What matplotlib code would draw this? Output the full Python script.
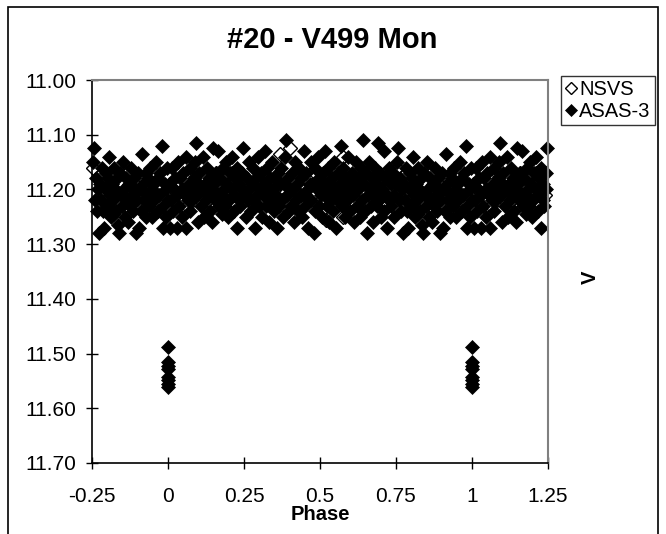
import matplotlib
matplotlib.use("Agg")
import matplotlib.pyplot as plt
from matplotlib.patches import Rectangle

plt.rcParams['font.family'] = ['Liberation Sans', 'DejaVu Sans']

# =========================
# DATA (phase, V magnitude)
# =========================
asas_phase = [
    0.003, 0.005, 0.010, 0.012, 0.017, 0.019, 0.023, 0.028, 0.029, 0.034,
    0.036, 0.039, 0.045, 0.047, 0.050, 0.055, 0.058, 0.060, 0.066, 0.068,
    0.071, 0.074, 0.079, 0.080, 0.086, 0.089, 0.091, 0.095, 0.098, 0.102,
    0.103, 0.108, 0.112, 0.114, 0.119, 0.121, 0.125, 0.129, 0.131, 0.136,
    0.138, 0.141, 0.146, 0.149, 0.151, 0.156, 0.158, 0.162, 0.165, 0.169,
    0.171, 0.176, 0.177, 0.182, 0.185, 0.188, 0.192, 0.194, 0.199, 0.201,
    0.205, 0.208, 0.211, 0.216, 0.218, 0.221, 0.226, 0.228, 0.232, 0.235,
    0.238, 0.243, 0.245, 0.248, 0.253, 0.255, 0.259, 0.262, 0.266, 0.268,
    0.272, 0.275, 0.279, 0.281, 0.286, 0.288, 0.293, 0.295, 0.298, 0.303,
    0.305, 0.309, 0.312, 0.315, 0.319, 0.322, 0.326, 0.328, 0.333, 0.336,
    0.338, 0.343, 0.345, 0.349, 0.352, 0.356, 0.359, 0.362, 0.365, 0.369,
    0.372, 0.376, 0.378, 0.382, 0.386, 0.389, 0.392, 0.396, 0.398, 0.402,
    0.405, 0.409, 0.412, 0.415, 0.419, 0.422, 0.425, 0.429, 0.432, 0.436,
    0.438, 0.442, 0.446, 0.448, 0.452, 0.455, 0.459, 0.462, 0.466, 0.469,
    0.472, 0.475, 0.479, 0.482, 0.485, 0.489, 0.492, 0.496, 0.498, 0.502,
    0.505, 0.509, 0.512, 0.516, 0.518, 0.522, 0.525, 0.529, 0.532, 0.535,
    0.538, 0.542, 0.545, 0.549, 0.552, 0.555, 0.559, 0.562, 0.566, 0.568,
    0.572, 0.575, 0.579, 0.582, 0.585, 0.589, 0.592, 0.595, 0.599, 0.602,
    0.605, 0.609, 0.612, 0.616, 0.618, 0.622, 0.625, 0.629, 0.632, 0.635,
    0.639, 0.642, 0.645, 0.649, 0.652, 0.655, 0.659, 0.662, 0.666, 0.668,
    0.672, 0.675, 0.679, 0.682, 0.686, 0.688, 0.692, 0.695, 0.699, 0.702,
    0.705, 0.709, 0.712, 0.715, 0.719, 0.722, 0.726, 0.728, 0.732, 0.735,
    0.739, 0.742, 0.745, 0.749, 0.752, 0.755, 0.759, 0.762, 0.765, 0.769,
    0.772, 0.776, 0.778, 0.782, 0.785, 0.789, 0.792, 0.796, 0.798, 0.802,
    0.805, 0.809, 0.812, 0.815, 0.819, 0.822, 0.826, 0.829, 0.832, 0.835,
    0.839, 0.842, 0.845, 0.849, 0.852, 0.856, 0.859, 0.862, 0.865, 0.869,
    0.872, 0.875, 0.879, 0.882, 0.886, 0.889, 0.892, 0.895, 0.899, 0.902,
    0.906, 0.909, 0.912, 0.915, 0.919, 0.922, 0.926, 0.929, 0.932, 0.935,
    0.939, 0.942, 0.946, 0.949, 0.952, 0.955, 0.959, 0.962, 0.966, 0.968,
    0.972, 0.975, 0.979, 0.982, 0.985, 0.989, 0.992, 0.995, 0.998, 0.999,
    # eclipse points
    0.000, 0.000, 0.000, 0.000, 0.000, 0.000, 0.000, 0.000,
]
asas_mag = [
    11.19, 11.27, 11.22, 11.16, 11.24, 11.20, 11.18, 11.27, 11.21, 11.15,
    11.23, 11.18, 11.20, 11.25, 11.17, 11.21, 11.14, 11.27, 11.22, 11.19,
    11.24, 11.16, 11.20, 11.22, 11.18, 11.15, 11.115, 11.21, 11.26, 11.19,
    11.17, 11.23, 11.20, 11.14, 11.25, 11.19, 11.22, 11.16, 11.21, 11.18,
    11.24, 11.20, 11.26, 11.125, 11.19, 11.22, 11.17, 11.21, 11.13, 11.23,
    11.18, 11.21, 11.245, 11.16, 11.20, 11.23, 11.15, 11.19, 11.25, 11.22,
    11.17, 11.20, 11.14, 11.24, 11.21, 11.18, 11.27, 11.16, 11.22, 11.19,
    11.23, 11.20, 11.17, 11.125, 11.21, 11.25, 11.18, 11.22, 11.15, 11.20,
    11.24, 11.19, 11.16, 11.22, 11.27, 11.18, 11.21, 11.14, 11.23, 11.20,
    11.17, 11.25, 11.21, 11.19, 11.13, 11.23, 11.16, 11.20, 11.26, 11.18,
    11.22, 11.15, 11.20, 11.24, 11.18, 11.21, 11.27, 11.17, 11.23, 11.19,
    11.16, 11.22, 11.25, 11.19, 11.14, 11.11, 11.21, 11.18, 11.24, 11.20,
    11.23, 11.17, 11.20, 11.26, 11.15, 11.22, 11.19, 11.24, 11.16, 11.21,
    11.18, 11.25, 11.13, 11.21, 11.23, 11.17, 11.20, 11.27, 11.19, 11.15,
    11.22, 11.19, 11.28, 11.16, 11.24, 11.20, 11.14, 11.23, 11.18, 11.21,
    11.25, 11.17, 11.21, 11.13, 11.19, 11.23, 11.16, 11.26, 11.20, 11.22,
    11.18, 11.24, 11.15, 11.20, 11.27, 11.22, 11.17, 11.21, 11.19, 11.12,
    11.23, 11.16, 11.20, 11.25, 11.18, 11.22, 11.14, 11.21, 11.24, 11.19,
    11.17, 11.21, 11.26, 11.19, 11.15, 11.23, 11.20, 11.18, 11.25, 11.16,
    11.22, 11.11, 11.19, 11.24, 11.17, 11.28, 11.21, 11.15, 11.20, 11.23,
    11.18, 11.26, 11.21, 11.16, 11.23, 11.19, 11.115, 11.22, 11.17, 11.25,
    11.20, 11.13, 11.24, 11.18, 11.27, 11.21, 11.16, 11.22, 11.19, 11.23,
    11.17, 11.21, 11.25, 11.19, 11.15, 11.125, 11.22, 11.18, 11.24, 11.20,
    11.28, 11.19, 11.22, 11.16, 11.24, 11.27, 11.20, 11.17, 11.23, 11.18,
    11.14, 11.21, 11.25, 11.19, 11.22, 11.16, 11.20, 11.24, 11.18, 11.265,
    11.28, 11.17, 11.21, 11.23, 11.15, 11.20, 11.25, 11.18, 11.22, 11.26,
    11.19, 11.23, 11.16, 11.21, 11.24, 11.18, 11.20, 11.28, 11.22, 11.17,
    11.27, 11.20, 11.24, 11.135, 11.19, 11.22, 11.17, 11.25, 11.21, 11.18,
    11.23, 11.16, 11.20, 11.25, 11.19, 11.22, 11.15, 11.21, 11.24, 11.18,
    11.21, 11.17, 11.12, 11.27, 11.23, 11.19, 11.25, 11.20, 11.16, 11.22,
    11.488, 11.515, 11.522, 11.528, 11.542, 11.548, 11.556, 11.562,
]

nsvs_phase = [
    0.018, 0.052, 0.100, 0.132, 0.174, 0.209, 0.241, 0.283, 0.317, 0.352,
    0.368, 0.401, 0.433, 0.468, 0.503, 0.520, 0.548, 0.575, 0.577, 0.611,
    0.647, 0.681, 0.716, 0.753, 0.786, 0.820, 0.851, 0.884, 0.917, 0.948,
    0.981, 0.064, 0.157, 0.262, 0.339, 0.455, 0.596, 0.703, 0.864, 0.936,
]
nsvs_mag = [
    11.20, 11.18, 11.215, 11.22, 11.19, 11.17, 11.21, 11.23, 11.18, 11.20,
    11.135, 11.125, 11.21, 11.19, 11.22, 11.255, 11.20, 11.14, 11.25, 11.18,
    11.21, 11.19, 11.23, 11.16, 11.20, 11.245, 11.19, 11.22, 11.18, 11.21,
    11.20, 11.23, 11.17, 11.19, 11.22, 11.18, 11.20, 11.21, 11.17, 11.24,
]

x_ticks = [-0.25, 0, 0.25, 0.5, 0.75, 1, 1.25]
x_labels = ["-0.25", "0", "0.25", "0.5", "0.75", "1", "1.25"]
y_ticks = [11.00, 11.10, 11.20, 11.30, 11.40, 11.50, 11.60, 11.70]


# =========================
# PHASE FOLD: show -0.25 .. 1.25
# =========================
def extend_phase(phase, mag):
    xs, ys = list(phase), list(mag)
    for p, m in zip(phase, mag):
        if p >= 0.75:
            xs.append(p - 1)
            ys.append(m)
        if p <= 0.25:
            xs.append(p + 1)
            ys.append(m)
    return xs, ys


nsvs_x, nsvs_y = extend_phase(nsvs_phase, nsvs_mag)
asas_x, asas_y = extend_phase(asas_phase, asas_mag)

# =========================
# PLOT
# =========================
fig = plt.figure(figsize=(6.66, 5.34), dpi=100)
fig.patches.append(Rectangle((8 / 666, -0.05), (658 - 8) / 666, 1.05 - 7 / 534,
                             transform=fig.transFigure, fill=False,
                             edgecolor="black", linewidth=1.2))

ax = fig.add_axes([92 / 666, 1 - 463 / 534, (548 - 92) / 666, (463 - 80) / 534])

ax.plot(nsvs_x, nsvs_y, linestyle="none", marker="D", markersize=7.2,
        markerfacecolor="white", markeredgecolor="black", markeredgewidth=1.0,
        label="NSVS", clip_on=False)
ax.plot(asas_x, asas_y, linestyle="none", marker="D", markersize=7.2,
        markerfacecolor="black", markeredgecolor="black", markeredgewidth=0.5,
        label="ASAS-3", clip_on=False)

ax.set_xlim(-0.25, 1.25)
ax.set_ylim(11.70, 11.00)
ax.set_xticks(x_ticks)
ax.set_xticklabels(x_labels)
ax.set_yticks(y_ticks)
ax.set_yticklabels([f"{v:.2f}" for v in y_ticks])
ax.tick_params(direction="inout", length=9, width=1, labelsize=15)
ax.tick_params(axis="x", pad=13)
ax.tick_params(axis="y", pad=7)

for side in ["top", "right"]:
    ax.spines[side].set_color("#808080")
    ax.spines[side].set_linewidth(1.5)
for side in ["left", "bottom"]:
    ax.spines[side].set_color("black")
    ax.spines[side].set_linewidth(1.2)

fig.text(332 / 666, 1 - 40 / 534, "#20 - V499 Mon", fontsize=21,
         fontweight="bold", ha="center", va="center")
fig.text(320 / 666, 1 - 515 / 534, "Phase", fontsize=14.5,
         fontweight="bold", ha="center", va="center")
fig.text(590 / 666, 1 - 277 / 534, "V", fontsize=14.5, fontweight="bold",
         rotation=90, ha="center", va="center")

leg = ax.legend(loc="upper left", bbox_to_anchor=(561 / 666, 1 - 76 / 534),
                bbox_transform=fig.transFigure, fontsize=14.5, frameon=True,
                fancybox=False, edgecolor="black", handlelength=0.6,
                handletextpad=0.1, borderpad=0.2, labelspacing=0.15,
                markerscale=0.85, borderaxespad=0)
leg.get_frame().set_linewidth(1.0)

fig.savefig("out.png", dpi=100)
